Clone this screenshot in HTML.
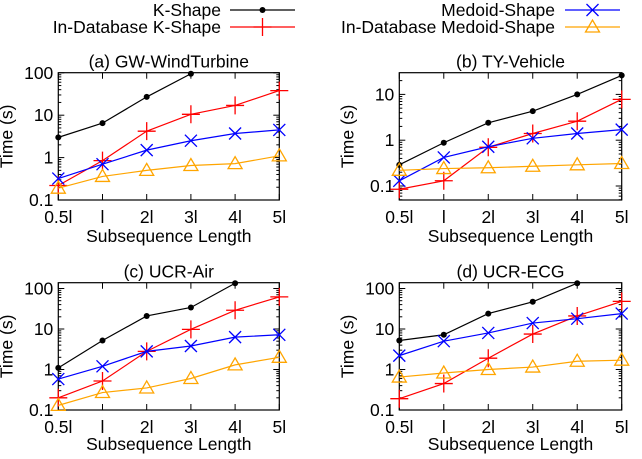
<!DOCTYPE html>
<html><head><meta charset="utf-8"><style>
body{margin:0;background:#fff}
svg{display:block;font-family:"Liberation Sans",sans-serif}
</style></head><body>
<svg id="c" width="642" height="459" viewBox="0 0 642 459"></svg>
<script>
const categories=["0.5l","l","2l","3l","4l","5l"];
const seriesNames=["K-Shape","In-Database K-Shape","Medoid-Shape","In-Database Medoid-Shape"];
const titles=["(a) GW-WindTurbine","(b) TY-Vehicle","(c) UCR-Air","(d) UCR-ECG"];
const aK=[3.0,6.5,27,95];
const aIK=[0.22,0.85,4.2,10.5,17,38];
const aM=[0.32,0.7,1.5,2.5,3.7,4.5];
const aIM=[0.19,0.36,0.5,0.65,0.72,1.1];
const bK=[0.29,0.88,2.4,4.3,10,26];
const bIK=[0.085,0.13,0.7,1.4,2.6,7.8];
const bM=[0.13,0.42,0.72,1.1,1.4,1.7];
const bIM=[0.22,0.24,0.25,0.27,0.29,0.31];
const cK=[1.1,5.2,21,34,135];
const cIK=[0.2,0.52,2.8,9.8,29,62];
const cM=[0.58,1.2,2.8,3.8,6.3,7.2];
const cIM=[0.13,0.27,0.35,0.6,1.3,2.0];
const dK=[5.2,7.2,24,47,135];
const dIK=[0.19,0.45,1.9,7.5,21,48];
const dM=[2.2,5,8,14,18,24];
const dIM=[0.65,0.82,1.0,1.15,1.6,1.7];
const aTicks=[0.1,1,10,100],bTicks=[0.1,1,10],cTicks=[0.1,1,10,100],dTicks=[0.1,1,10,100];

const NS="http://www.w3.org/2000/svg";
const svg=document.getElementById('c');
const FS=17.5;
function el(t,a,p){const e=document.createElementNS(NS,t);for(const k in a)e.setAttribute(k,a[k]);(p||svg).appendChild(e);return e;}
const colors=["#000","#ff0000","#0000ff","#ffa500"];

function marker(g,k,x,y){
  const c=colors[k];
  if(k===0){const m=el('circle',{cx:x,cy:y,r:3,fill:c},g);}
  else if(k===1){el('path',{d:`M${x-9} ${y}H${x+9}M${x} ${y-9}V${y+9}`,stroke:c,'stroke-width':1.3,fill:'none'},g);}
  else if(k===2){el('path',{d:`M${x-6} ${y-6}L${x+6} ${y+6}M${x-6} ${y+6}L${x+6} ${y-6}`,stroke:c,'stroke-width':1.3,fill:'none'},g);}
  else {el('path',{d:`M${x-7} ${y+5}L${x+7} ${y+5}L${x} ${y-7}Z`,stroke:c,'stroke-width':1.3,fill:'none'},g);}
}

const panels=[
 {L:58.3,R:279.3,T:72.7,B:200,y0:200,v0:0.1,ppd:42.4,ticks:aTicks,data:[aK,aIK,aM,aIM],tl:217,xl:236},
 {L:399.3,R:621.7,T:72.7,B:200,y0:186,v0:0.1,ppd:45.8,ticks:bTicks,data:[bK,bIK,bM,bIM],tl:217,xl:236},
 {L:58.3,R:279.3,T:282.7,B:410,y0:410,v0:0.1,ppd:40.5,ticks:cTicks,data:[cK,cIK,cM,cIM],tl:427,xl:444},
 {L:399.3,R:621.7,T:282.7,B:410,y0:410,v0:0.1,ppd:40.5,ticks:dTicks,data:[dK,dIK,dM,dIM],tl:427,xl:444}
];
panels.forEach((p,i)=>{
  const g=el('g',{});
  
  
  const yS=v=>p.y0-Math.log10(v/p.v0)*p.ppd;
  const xS=j=>p.L+j*(p.R-p.L)/(categories.length-1);
  for(let e=-2;e<3;e++)for(let m=1;m<10;m++){
    const v=m*Math.pow(10,e),y=yS(v);
    if(y<p.T-0.1||y>p.B+0.1)continue;
    const len=m===1?6:3;
    el('line',{x1:p.L,x2:p.L+len,y1:y,y2:y,stroke:'#000','stroke-width':1},g);
    el('line',{x1:p.R,x2:p.R-len,y1:y,y2:y,stroke:'#000','stroke-width':1},g);
  }
  p.ticks.forEach(v=>{
    const t=el('text',{x:p.L-5,y:yS(v)+6,'text-anchor':'end','font-size':FS},g);t.textContent=String(v);
    
  });
  categories.forEach((c,j)=>{
    const x=xS(j);
    el('line',{x1:x,x2:x,y1:p.B,y2:p.B-6,stroke:'#000'},g);
    el('line',{x1:x,x2:x,y1:p.T,y2:p.T+6,stroke:'#000'},g);
    const t=el('text',{x:x,y:p.tl+6,'text-anchor':'middle','font-size':FS},g);t.textContent=c;
    
  });
  const fr=el('rect',{x:p.L,y:p.T,width:p.R-p.L,height:p.B-p.T,fill:'none',stroke:'#000','stroke-width':1.2},g);
  
  const tt=el('text',{x:(p.L+p.R)/2,y:p.T-5,'text-anchor':'middle','font-size':FS},g);tt.textContent=titles[i];
  
  const xl=el('text',{x:(p.L+p.R)/2,y:p.xl+6,'text-anchor':'middle','font-size':FS},g);xl.textContent='Subsequence Length';
  
  const yc=(p.T+p.B)/2,yx=p.L-46;
  const yl=el('text',{x:yx,y:yc,'text-anchor':'middle','font-size':FS,transform:`rotate(-90 ${yx} ${yc})`},g);yl.textContent='Time (s)';
  
  p.data.forEach((arr,k)=>{
    const sg=el('g',{},g);
    
    
    const pts=arr.map((v,j)=>[xS(j),yS(v)]);
    el('polyline',{points:pts.map(q=>q.join(',')).join(' '),fill:'none',stroke:colors[k],'stroke-width':1.2},sg);
    pts.forEach(q=>marker(sg,k,q[0],q[1]));
  });
});
const legend=[[221,230,295,10],[221,230,295,27],[555,565,620,10],[555,565,620,27]];
legend.forEach((L,k)=>{
  const g=el('g',{});
  
  
  const t=el('text',{x:L[0],y:L[3]+6,'text-anchor':'end','font-size':FS},g);t.textContent=seriesNames[k];
  el('line',{x1:L[1],x2:L[2],y1:L[3],y2:L[3],stroke:colors[k],'stroke-width':1.2},g);
  marker(g,k,(L[1]+L[2])/2,L[3]);
});
</script>
</body></html>
